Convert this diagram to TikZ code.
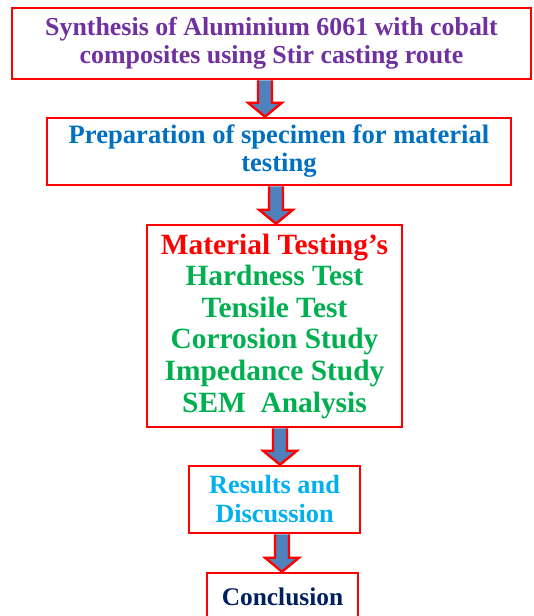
\documentclass[tikz,border=0pt]{standalone}
\usepackage{fontspec}
\setmainfont{Liberation Serif}
\usetikzlibrary{calc}
\definecolor{cpurple}{HTML}{7030A0}
\definecolor{cblue}{HTML}{0070C0}
\definecolor{cgreen}{HTML}{00B050}
\definecolor{ccyan}{HTML}{00B0F0}
\definecolor{cnavy}{HTML}{002060}
\definecolor{arrfill}{HTML}{4F81BD}
\tikzset{
  box/.style={draw=red, line width=2.6pt, fill=white, align=center, inner sep=0pt, font=\bfseries},
  blockarrow/.style={draw=red, line width=2.4pt, fill=arrfill, line join=miter},
}
\newcommand{\blockarr}[3]{%
  \draw[blockarrow] ($(#1 |- #2.south)+(-7,0)$) -- ($(#1 |- #3.north)+(-7,-14)$)
    -- ($(#1 |- #3.north)+(-17,-14)$) -- (#1 |- #3.north)
    -- ($(#1 |- #3.north)+(17,-14)$) -- ($(#1 |- #3.north)+(7,-14)$)
    -- ($(#1 |- #2.south)+(7,0)$);
}
\begin{document}
\begin{tikzpicture}[x=1pt,y=-1pt]
\useasboundingbox (0,0) rectangle (534,616);
\node[box, minimum width=519pt, minimum height=71pt, text=cpurple,
  font=\bfseries\fontsize{25.9}{28}\selectfont] (b1) at (271.5,43.5)
  {Synthesis of Aluminium 6061 with cobalt\\composites using Stir casting route};
\node[box, minimum width=464pt, minimum height=67pt, text=cblue,
  font=\bfseries\fontsize{26.6}{28}\selectfont] (b2) at (279,151.5)
  {Preparation of specimen for material\\testing};
\node[box, minimum width=255pt, minimum height=202pt, text=cgreen,
  font=\bfseries\fontsize{29.4}{31.6}\selectfont] (b3) at (274.5,326)
  {\textcolor{red}{Material Testing’s}\\Hardness Test\\Tensile Test\\Corrosion Study\\Impedance Study\\SEM\ \ Analysis};
\node[box, minimum width=171pt, minimum height=67pt, text=ccyan,
  font=\bfseries\fontsize{26.3}{29}\selectfont] (b4) at (274.5,499.5)
  {Results and\\Discussion};
\node[box, minimum width=151pt, minimum height=48pt, text=cnavy,
  font=\bfseries\fontsize{25.4}{29}\selectfont] (b5) at (282.5,597)
  {Conclusion};
\coordinate (x1) at (265,0);
\coordinate (x2) at (276,0);
\coordinate (x3) at (280,0);
\coordinate (x4) at (282,0);
\blockarr{x1}{b1}{b2}
\blockarr{x2}{b2}{b3}
\blockarr{x3}{b3}{b4}
\blockarr{x4}{b4}{b5}
\end{tikzpicture}
\end{document}
